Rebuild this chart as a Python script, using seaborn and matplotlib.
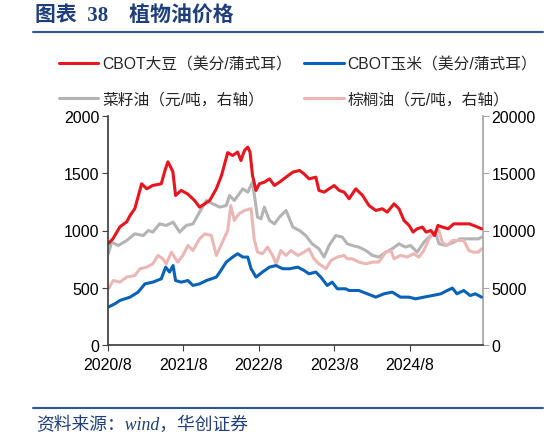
import numpy as np
import pandas as pd
import matplotlib
matplotlib.use("Agg")
import matplotlib.pyplot as plt
import seaborn as sns

# CBOT soybean, cents/bushel (left axis)
soy_dates = ["2020-08-01", "2020-08-26", "2020-09-29", "2020-11-01", "2020-11-17", "2020-12-10",
             "2021-01-12", "2021-02-06", "2021-03-06", "2021-04-17", "2021-05-03", "2021-05-19",
             "2021-06-05", "2021-06-12", "2021-06-25", "2021-07-22", "2021-08-22", "2021-09-25",
             "2021-10-19", "2021-11-13", "2021-12-07", "2022-01-08", "2022-02-02", "2022-03-04",
             "2022-03-28", "2022-04-21", "2022-05-07", "2022-05-24", "2022-06-09", "2022-06-20",
             "2022-07-02", "2022-07-19", "2022-08-04", "2022-08-28", "2022-09-22", "2022-10-16",
             "2022-11-09", "2022-12-11", "2023-01-13", "2023-02-14", "2023-03-08", "2023-04-01",
             "2023-05-04", "2023-05-19", "2023-06-13", "2023-07-07", "2023-08-01", "2023-08-25",
             "2023-09-18", "2023-10-12", "2023-11-13", "2023-12-16", "2024-01-16", "2024-02-18",
             "2024-03-20", "2024-04-13", "2024-05-16", "2024-06-09", "2024-07-03", "2024-07-28",
             "2024-08-16", "2024-09-05", "2024-09-30", "2024-10-18", "2024-11-10", "2024-11-28",
             "2024-12-14", "2025-01-04", "2025-02-02", "2025-02-28", "2025-03-25", "2025-04-18",
             "2025-05-15", "2025-06-10", "2025-07-13"]
soy_vals = [880, 927, 1032, 1076, 1131, 1190,
            1408, 1364, 1393, 1408, 1513, 1600,
            1540, 1513, 1306, 1350, 1320, 1262,
            1204, 1233, 1262, 1364, 1480, 1680,
            1655, 1685, 1611, 1699, 1728, 1685,
            1480, 1350, 1408, 1422, 1451, 1393,
            1422, 1466, 1510, 1524, 1495, 1451,
            1466, 1350, 1335, 1364, 1393, 1350,
            1335, 1277, 1364, 1306, 1218, 1175,
            1190, 1160, 1233, 1190, 1088, 1044,
            986, 1015, 1030, 986, 1000, 956,
            1044, 1030, 1015, 1058, 1058, 1058,
            1058, 1040, 1015]

# CBOT corn, cents/bushel (left axis)
corn_dates = ["2020-08-04", "2020-09-05", "2020-09-29", "2020-11-17", "2020-12-26", "2021-01-28",
              "2021-03-07", "2021-04-17", "2021-05-08", "2021-05-27", "2021-06-13", "2021-06-25",
              "2021-07-22", "2021-08-24", "2021-09-17", "2021-10-19", "2021-11-21", "2022-01-08",
              "2022-01-25", "2022-02-25", "2022-03-28", "2022-04-21", "2022-05-16", "2022-06-09",
              "2022-06-25", "2022-07-19", "2022-08-19", "2022-09-22", "2022-10-24", "2022-11-25",
              "2022-12-28", "2023-02-06", "2023-03-08", "2023-04-01", "2023-05-04", "2023-05-28",
              "2023-06-28", "2023-07-22", "2023-08-16", "2023-09-25", "2023-10-12", "2023-11-28",
              "2024-01-08", "2024-02-18", "2024-03-28", "2024-05-07", "2024-06-16", "2024-07-28",
              "2024-08-28", "2024-10-07", "2024-11-17", "2024-12-28", "2025-01-28", "2025-02-22",
              "2025-03-16", "2025-04-18", "2025-05-19", "2025-06-13", "2025-07-13"]
corn_vals = [331, 360, 389, 418, 462, 534,
             549, 578, 680, 637, 694, 563,
             549, 563, 520, 534, 563, 593,
             637, 724, 768, 797, 768, 768,
             666, 593, 637, 680, 694, 666,
             666, 680, 651, 622, 637, 593,
             520, 549, 491, 491, 476, 476,
             447, 418, 447, 462, 418, 418,
             403, 418, 432, 447, 476, 497,
             447, 476, 432, 447, 418]

# rapeseed oil, yuan/ton (right axis)
rape_dates = ["2020-08-04", "2020-08-20", "2020-09-21", "2020-11-01", "2020-12-10", "2021-01-20",
              "2021-02-13", "2021-03-07", "2021-04-09", "2021-05-11", "2021-06-13", "2021-07-15",
              "2021-08-16", "2021-09-17", "2021-10-19", "2021-11-21", "2021-12-22", "2022-01-25",
              "2022-02-25", "2022-03-13", "2022-04-05", "2022-05-16", "2022-06-09", "2022-07-02",
              "2022-07-26", "2022-08-12", "2022-08-28", "2022-09-22", "2022-10-16", "2022-11-09",
              "2022-12-11", "2023-01-13", "2023-02-14", "2023-03-16", "2023-04-16", "2023-05-19",
              "2023-06-13", "2023-07-07", "2023-08-08", "2023-09-09", "2023-10-03", "2023-10-27",
              "2023-11-28", "2024-01-01", "2024-02-02", "2024-03-04", "2024-04-06", "2024-05-07",
              "2024-06-09", "2024-07-10", "2024-08-04", "2024-09-05", "2024-10-07", "2024-11-09",
              "2024-12-04", "2024-12-19", "2025-01-21", "2025-03-01", "2025-04-01", "2025-05-03",
              "2025-06-03", "2025-06-28", "2025-07-13"]
rape_vals = [7970, 8980, 8690, 9130, 9710, 9560,
             10000, 9860, 10580, 10440, 10730, 9860,
             10440, 10580, 11600, 12620, 12330, 12040,
             12180, 13060, 12620, 13640, 13350, 14220,
             11170, 11020, 12040, 10880, 10580, 11170,
             11750, 10300, 10000, 9560, 8840, 8400,
             7680, 8690, 9560, 9420, 8840, 8690,
             8550, 8250, 7820, 7680, 8110, 8400,
             8840, 8550, 8690, 8110, 8980, 9560,
             9710, 8840, 8690, 8980, 9270, 9270,
             9270, 9270, 9420]

# palm oil, yuan/ton (right axis)
palm_dates = ["2020-08-04", "2020-08-28", "2020-09-29", "2020-11-01", "2020-12-10", "2021-01-04",
              "2021-02-06", "2021-03-07", "2021-04-01", "2021-04-25", "2021-05-11", "2021-06-05",
              "2021-07-06", "2021-07-30", "2021-08-24", "2021-09-17", "2021-10-19", "2021-11-13",
              "2021-12-15", "2022-01-08", "2022-02-10", "2022-03-04", "2022-03-19", "2022-04-05",
              "2022-04-28", "2022-05-24", "2022-06-25", "2022-07-10", "2022-07-26", "2022-08-19",
              "2022-09-13", "2022-10-07", "2022-10-24", "2022-11-16", "2022-12-11", "2023-01-04",
              "2023-02-06", "2023-03-08", "2023-04-01", "2023-04-25", "2023-05-19", "2023-06-22",
              "2023-07-16", "2023-08-16", "2023-09-18", "2023-10-03", "2023-10-27", "2023-11-28",
              "2024-01-01", "2024-02-02", "2024-03-04", "2024-04-06", "2024-05-01", "2024-05-16",
              "2024-06-16", "2024-07-19", "2024-08-19", "2024-09-13", "2024-10-07", "2024-11-01",
              "2024-11-25", "2024-12-19", "2025-01-04", "2025-01-28", "2025-02-22", "2025-03-25",
              "2025-04-18", "2025-05-13", "2025-06-03", "2025-06-28", "2025-07-13"]
palm_vals = [4910, 5630, 5490, 5930, 6070, 6660,
             6800, 7090, 7820, 7530, 7090, 8110,
             7240, 7820, 8690, 8250, 9270, 9710,
             9560, 7820, 9130, 10000, 12180, 10880,
             11460, 11750, 11900, 9270, 8110, 7970,
             8550, 7820, 7090, 8250, 7820, 8250,
             7820, 8110, 8400, 7530, 7090, 6660,
             7380, 7680, 7820, 7530, 7530, 7240,
             7090, 7240, 7240, 8110, 8250, 7530,
             7820, 7680, 7970, 7680, 8250, 9270,
             9860, 10000, 8980, 8690, 9130, 9130,
             9130, 8250, 8110, 8110, 8400]

x_ticks = ["2020-08-01", "2021-08-01", "2022-08-01", "2023-08-01", "2024-08-01"]
x_tick_labels = ["2020/8", "2021/8", "2022/8", "2023/8", "2024/8"]

labels = ["CBOT大豆（美分/蒲式耳）", "CBOT玉米（美分/蒲式耳）",
          "菜籽油（元/吨，右轴）", "棕榈油（元/吨，右轴）"]
colors = ["#E8141E", "#0762B8", "#B4B4B4", "#EBB7B5"]

sns.set_theme(style="ticks")
plt.rcParams['font.family'] = ['Liberation Sans', 'Noto Sans CJK SC', 'DejaVu Sans']

fig = plt.figure(figsize=(5.58, 4.39), dpi=100)
ax = fig.add_axes([107.7 / 558, 1 - 346 / 439, (483 - 107.7) / 558, (346 - 117) / 439])
ax2 = ax.twinx()

lw = 2.2
sns.lineplot(x=pd.to_datetime(rape_dates), y=rape_vals, ax=ax2, color=colors[2], lw=lw, label=labels[2])
sns.lineplot(x=pd.to_datetime(palm_dates), y=palm_vals, ax=ax2, color=colors[3], lw=lw, label=labels[3])
ax.set_zorder(ax2.get_zorder() + 1)
ax.patch.set_visible(False)
sns.lineplot(x=pd.to_datetime(soy_dates), y=soy_vals, ax=ax, color=colors[0], lw=lw, label=labels[0])
sns.lineplot(x=pd.to_datetime(corn_dates), y=corn_vals, ax=ax, color=colors[1], lw=lw, label=labels[1])

ax.set_xlim(pd.Timestamp("2020-08-01"), pd.Timestamp("2025-07-20"))
ax.set_ylim(0, 2000)
ax2.set_ylim(0, 20000)
ax.set_yticks(np.arange(0, 2001, 500))
ax2.set_yticks(np.arange(0, 20001, 5000))
ax.set_xticks(pd.to_datetime(x_ticks))
ax.set_xticklabels(x_tick_labels)
ax.set_xlabel("")
ax.set_ylabel("")
ax2.set_ylabel("")

for a in (ax, ax2):
    a.spines['top'].set_visible(False)
    a.tick_params(labelsize=11.5, length=4, width=0.8, labelcolor="#000000", pad=2)
ax.tick_params(axis='x', pad=5)
ax.spines['left'].set_color("#404040")
ax.spines['bottom'].set_color("#404040")
ax.spines['right'].set_visible(False)
ax2.spines['left'].set_visible(False)
ax2.spines['bottom'].set_visible(False)
ax2.spines['right'].set_color("#A6A6A6")
ax2.tick_params(axis='y', color="#A6A6A6")
ax.tick_params(axis='both', color="#404040")

h1, l1 = ax.get_legend_handles_labels()
h2, l2 = ax2.get_legend_handles_labels()
ax.get_legend().remove()
ax2.get_legend().remove()
handles = [h1[0], h2[0], h1[1], h2[1]]
leg_labels = [l1[0], l2[0], l1[1], l2[1]]
fig.legend(handles, leg_labels, ncol=2, loc="upper left", bbox_to_anchor=(59 / 558, 1 - 57 / 439),
           frameon=False, fontsize=11.3, handlelength=2.5, handletextpad=0.25,
           labelspacing=1.3, columnspacing=0.8, borderpad=0, borderaxespad=0)

# header and footer
fig.text(35 / 558, 1 - 16 / 439, "图表  38    植物油价格", fontsize=15, fontweight="bold",
         color="#1F3F7A", va="center", family=['Liberation Serif', 'Noto Sans CJK SC'])
fig.add_artist(plt.Line2D([33 / 558, 543 / 558], [1 - 32.5 / 439, 1 - 32.5 / 439],
                          color="#2E5597", lw=1.5))
fig.add_artist(plt.Line2D([33 / 558, 543 / 558], [1 - 408.5 / 439, 1 - 408.5 / 439],
                          color="#2E5597", lw=1.5))
fig.text(36 / 558, 1 - 425.5 / 439, "资料来源：wind，华创证券", fontsize=12.8, style="italic",
         color="#1F3F7A", va="center", family=['Liberation Serif', 'Noto Sans CJK SC'])

fig.savefig("out.png", dpi=100)
